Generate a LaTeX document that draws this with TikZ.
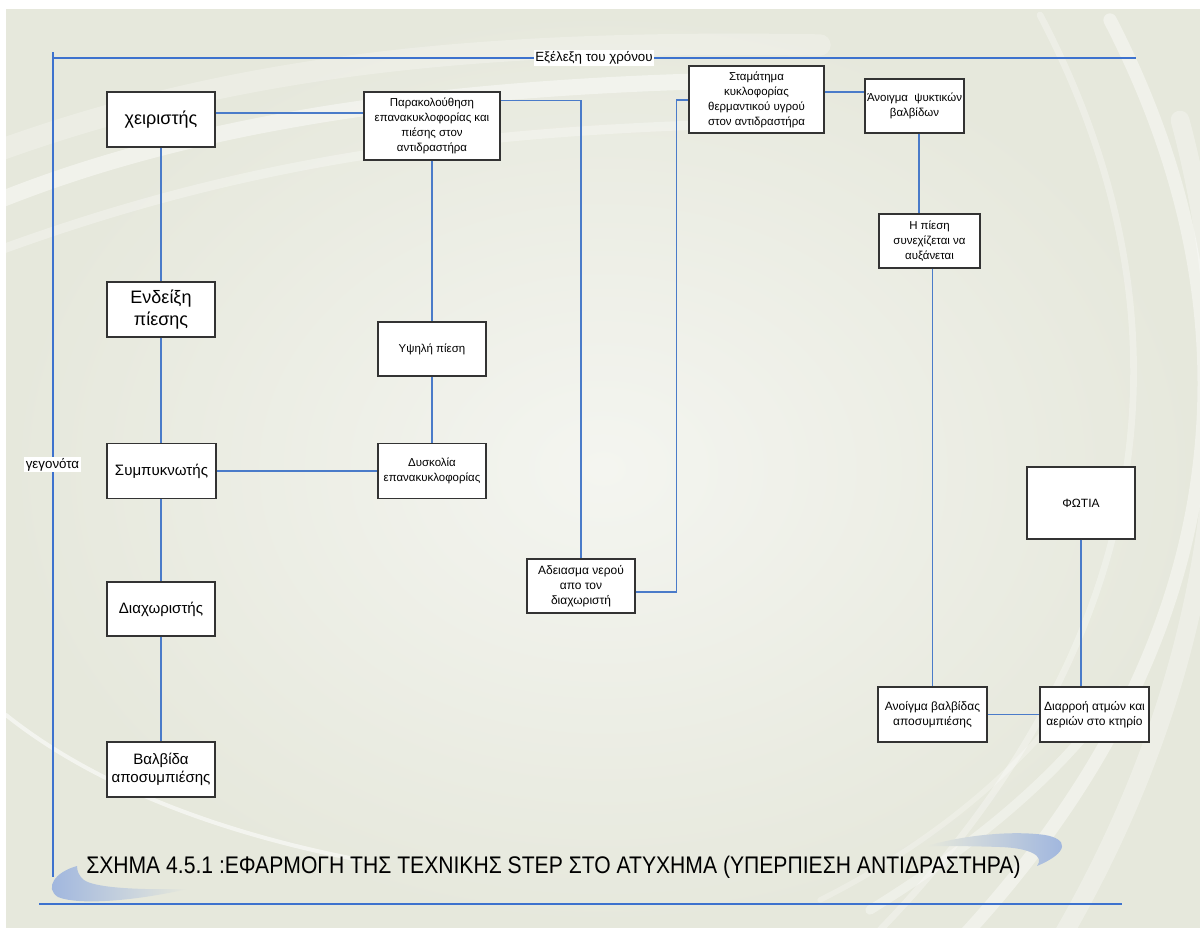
\documentclass[tikz,border=0pt]{standalone}
\usepackage{fontspec}
\setmainfont{Liberation Sans}
\usetikzlibrary{calc}

\definecolor{panel}{HTML}{E6E8DC}
\definecolor{panelhi}{HTML}{F4F5F0}
\definecolor{link}{HTML}{4A7BC9}
\definecolor{axis}{HTML}{3D72CE}
\definecolor{swoosh}{HTML}{9DB4DE}

\begin{document}
\begin{tikzpicture}[x=0.75pt,y=-0.75pt,
  box/.style={draw=black!80, line width=1pt, fill=white, align=center, inner sep=1pt,
              font=\fontsize{8.6}{11.2}\selectfont},
  wh/.style 2 args={minimum width=#1*0.75pt, minimum height=#2*0.75pt},
  bigtext/.style={font=\fontsize{13.5}{16.5}\selectfont},
  midtext/.style={font=\fontsize{11.3}{13.5}\selectfont},
  smtext/.style={font=\fontsize{9}{11.2}\selectfont},
  link/.style={draw=link, line width=1.1pt},
  axisline/.style={draw=axis, line width=1pt},
  tag/.style={fill=white, inner sep=1pt, font=\fontsize{10}{12}\selectfont},
  arcline/.style={draw=white, line cap=round}]

\useasboundingbox (0,0) rectangle (1200,928);
\fill[white] (0,0) rectangle (1200,928);

% background panel with soft light sweeps
\begin{scope}
  \clip (6,9) rectangle (1200,928);
  \shade[inner color=panelhi, outer color=panel] (6,9) rectangle (1200,928);
  \draw[arcline, opacity=0.40, line width=10pt] (1110,20) .. controls (1270,330) and (1230,650) .. (960,940);
  \draw[arcline, opacity=0.30, line width=5pt] (1040,15) .. controls (1200,320) and (1160,640) .. (880,930);
  \draw[arcline, opacity=0.30, line width=14pt] (1180,120) .. controls (1260,420) and (1200,700) .. (1060,940);
  \draw[arcline, opacity=0.45, line width=12pt] (0,200) .. controls (200,120) and (450,85) .. (760,80);
  \draw[arcline, opacity=0.30, line width=7pt] (0,250) .. controls (220,170) and (420,135) .. (700,125);
  \draw[arcline, opacity=0.25, line width=16pt] (0,150) .. controls (250,60) and (500,40) .. (820,45);
  \draw[arcline, opacity=0.55, line width=3pt] (6,715) .. controls (100,790) and (230,835) .. (360,860);
  \draw[arcline, opacity=0.35, line width=7pt] (870,910) .. controls (950,860) and (1050,790) .. (1120,690);
  \draw[arcline, opacity=0.25, line width=4pt] (820,900) .. controls (920,850) and (1010,780) .. (1070,700);
\end{scope}

% time axis and event axis
\coordinate (axtop) at (53,52);
\coordinate (axcorner) at (53,58);
\coordinate (axend) at (1136,58);
\coordinate (axbottom) at (53,877);
\draw[axisline] (axtop) -- (axbottom);
\draw[axisline] (axcorner) -- (axend);
\node[tag] (time) at (594,58) {Εξέλεξη του χρόνου};
\node[tag] (events) at (52.5,464.5) {γεγονότα};

% left column of components
\node[box, wh={108}{55}, bigtext] (cheir) at (161,119.5) {χειριστής};
\node[box, wh={108}{55}, bigtext] (endeix) at (161,309.5) {Ενδείξη\\πίεσης};
\node[box, wh={109}{55}, midtext] (symp) at (161.5,471) {Συμπυκνωτής};
\node[box, wh={108}{54}, midtext] (diax) at (161,609) {Διαχωριστής};
\node[box, wh={108}{55}, midtext] (valv) at (161,769.5) {Βαλβίδα\\αποσυμπιέσης};

% events
\node[box, wh={136}{68}] (parak) at (432,126) {Παρακολούθηση\\επανακυκλοφορίας και\\πιέσης στον\\αντιδραστήρα};
\node[box, wh={108}{54}] (ypsili) at (432,349) {Υψηλή πίεση};
\node[box, wh={108}{55}] (dysk) at (432,471) {Δυσκολία\\επανακυκλοφορίας};
\node[box, wh={108}{54}, smtext] (adei) at (581,586) {Αδειασμα νερού\\απο τον\\διαχωριστή};
\node[box, wh={135}{67}] (stam) at (756.5,99.5) {Σταμάτημα\\κυκλοφορίας\\θερμαντικού υγρού\\στον αντιδραστήρα};
\node[box, wh={99}{54}] (psyk) at (914.5,106) {Άνοιγμα\ \ ψυκτικών\\βαλβίδων};
\node[box, wh={101}{54}] (pies) at (929.5,241) {Η πίεση\\συνεχίζεται να\\αυξάνεται};
\node[box, wh={108}{72}, smtext] (fotia) at (1081,503) {ΦΩΤΙΑ};
\node[box, wh={109}{55}, smtext] (anvalv) at (932.5,714.5) {Ανοίγμα βαλβίδας\\αποσυμπιέσης};
\node[box, wh={109}{55}, smtext] (diarr) at (1094.5,714.5) {Διαρροή ατμών και\\αεριών στο κτηρίο};

% connectors
\coordinate (c1) at ($(cheir.east)+(0,-6.5)$);
\draw[link] (c1) -- (c1 -| parak.west);
\draw[link] (cheir.south) -- (endeix.north);
\draw[link] (endeix.south) -- (symp.north -| endeix.south);
\draw[link] (symp.south -| diax.north) -- (diax.north);
\draw[link] (diax.south) -- (valv.north);
\draw[link] (symp.east) -- (dysk.west);
\draw[link] (parak.south) -- (ypsili.north);
\draw[link] (ypsili.south) -- (dysk.north);
\coordinate (c2) at ($(parak.north east)+(0,9)$);
\draw[link] (c2) -| (adei.north);
\coordinate (c3) at ($(adei.east)+(0,6)$);
\coordinate (c4) at ($(stam.west)+(0,0.5)$);
\coordinate (bend) at ($(c3)+(41,0)$);
\draw[link] (c3) -- (bend) |- (c4);
\coordinate (c5) at ($(psyk.west)+(0,-14)$);
\draw[link] (c5 -| stam.east) -- (c5);
\coordinate (c6) at ($(psyk.south)+(4.5,0)$);
\draw[link] (c6) -- (c6 |- pies.north);
\draw[link] (anvalv.north |- pies.south) -- (anvalv.north);
\draw[link] (fotia.south) -- (fotia.south |- diarr.north);
\draw[link] (anvalv.east) -- (diarr.west);

% caption ornaments
\shade[left color=swoosh, right color=panel]
  (77,866) .. controls (55,872) and (44,888) .. (58,897)
  .. controls (80,906) and (140,900) .. (187,889)
  .. controls (140,890) and (95,888) .. (84,880)
  .. controls (79,876) and (77,871) .. (77,866) -- cycle;
\shade[left color=panel, right color=swoosh]
  (927,846) .. controls (960,836) and (1010,830) .. (1045,835)
  .. controls (1068,839) and (1070,852) .. (1037,866)
  .. controls (1045,856) and (1030,848) .. (1000,847)
  .. controls (970,846) and (945,846) .. (927,846) -- cycle;

% caption and rule
\node[anchor=west, inner sep=0pt, font=\fontsize{18}{20}\selectfont] (caption) at (86,867)
  {\scalebox{0.88}[1]{ΣΧΗΜΑ 4.5.1 :ΕΦΑΡΜΟΓΗ ΤΗΣ ΤΕΧΝΙΚΗΣ STEP ΣΤΟ ΑΤΥΧΗΜΑ (ΥΠΕΡΠΙΕΣΗ ΑΝΤΙΔΡΑΣΤΗΡΑ)}};
\coordinate (ruleL) at (39,904);
\coordinate (ruleR) at (1122,904);
\draw[axisline] (ruleL) -- (ruleR);

\end{tikzpicture}
\end{document}
